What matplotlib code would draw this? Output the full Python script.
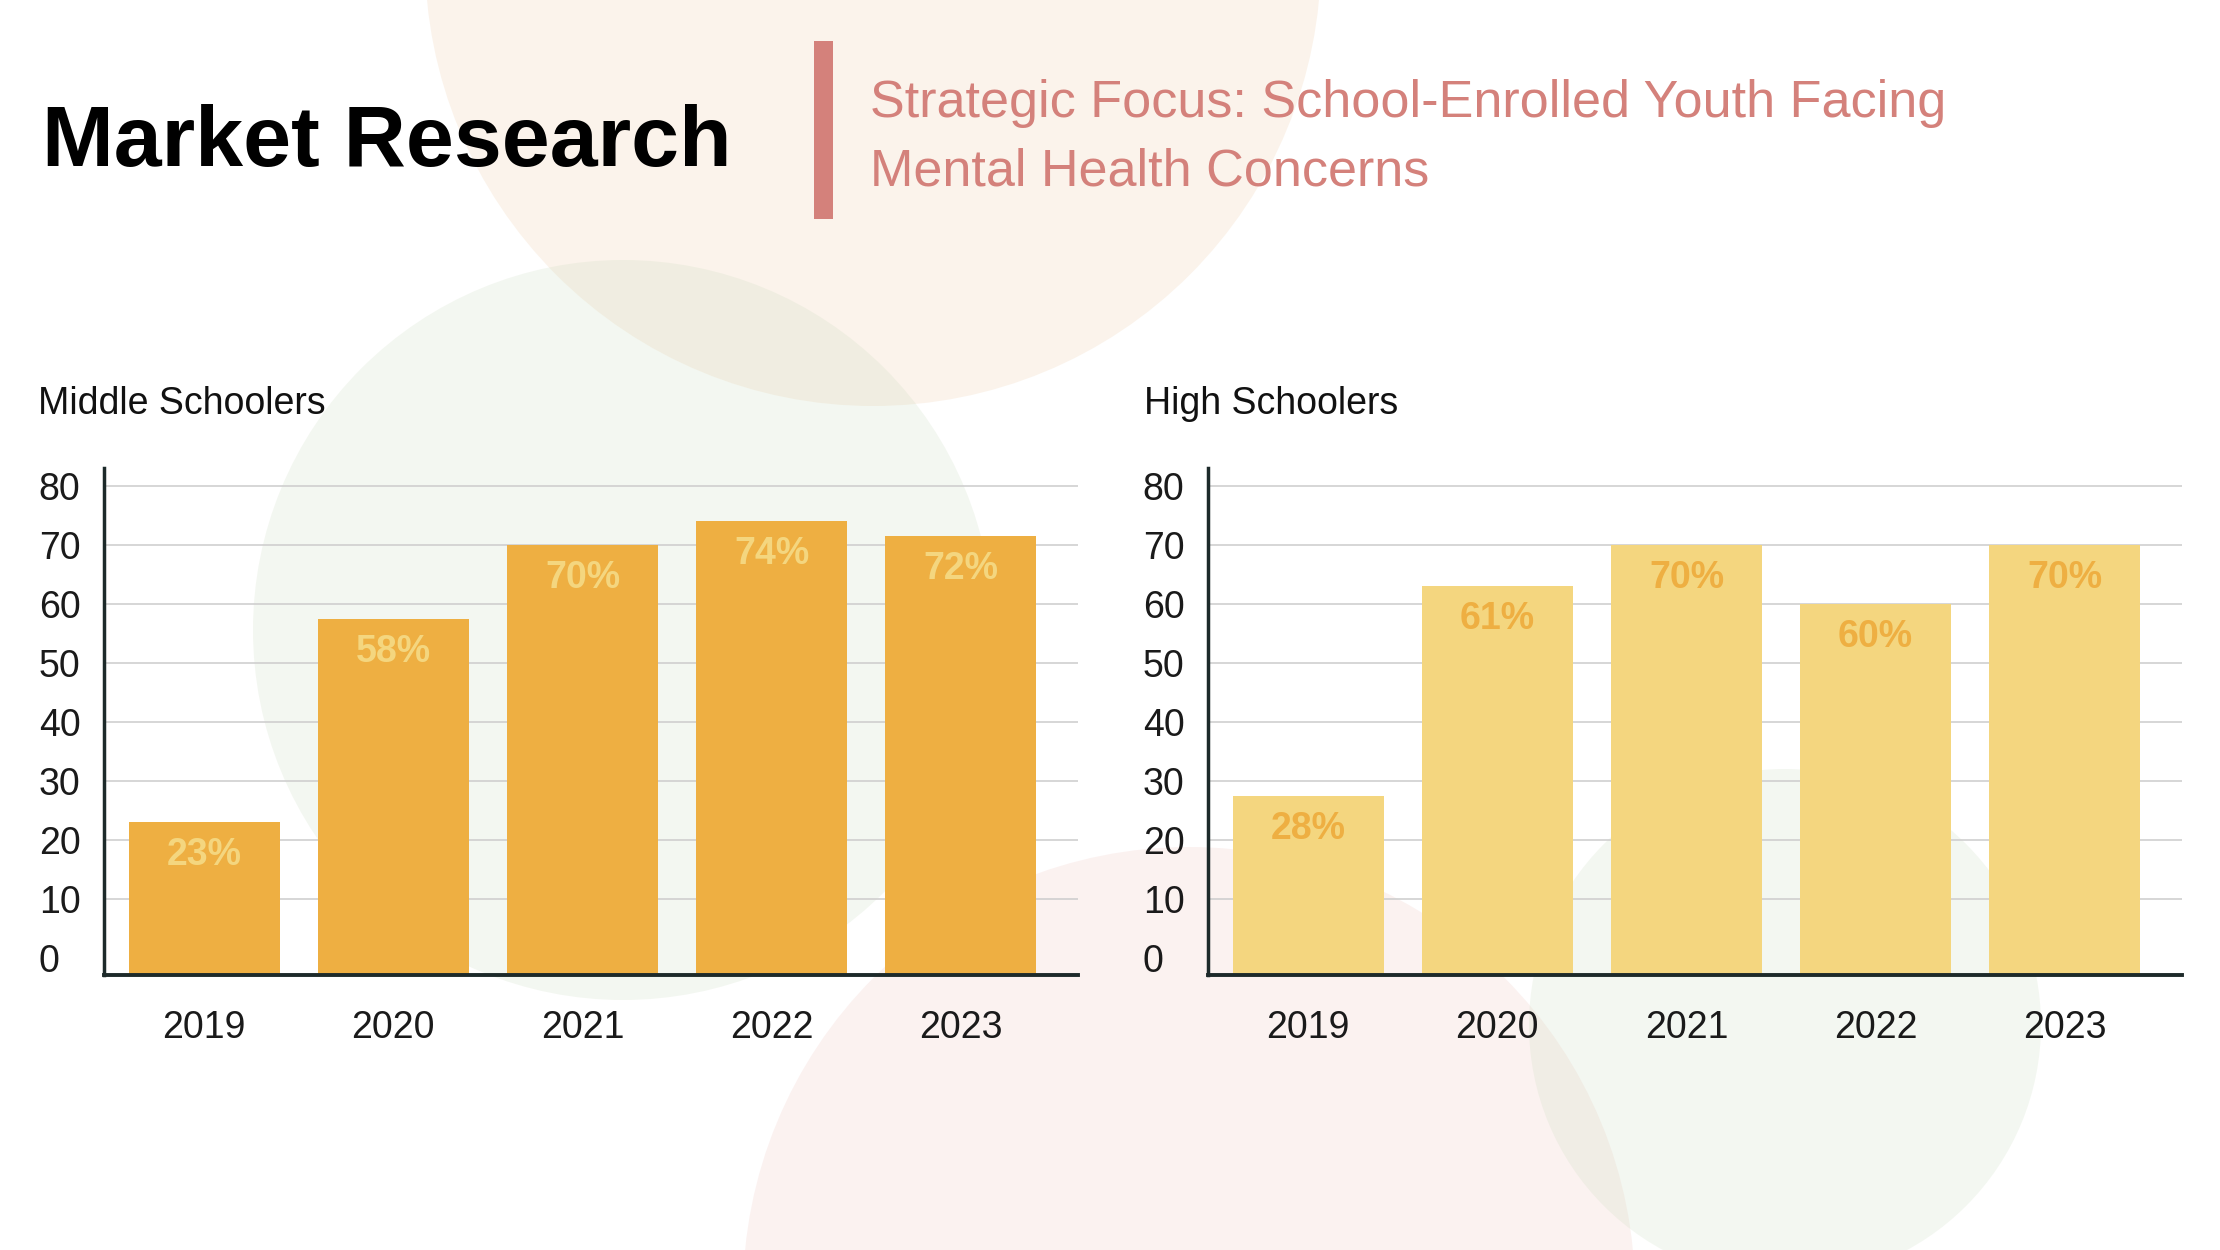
import numpy as np
import matplotlib.pyplot as plt
from matplotlib.patches import Circle, Rectangle

# data
years = ['2019', '2020', '2021', '2022', '2023']
middle_vals = [23, 57.5, 70, 74, 71.5]
middle_labels = ['23%', '58%', '70%', '74%', '72%']
high_vals = [27.5, 63, 70, 60, 70]
high_labels = ['28%', '61%', '70%', '60%', '70%']
yticks = [0, 10, 20, 30, 40, 50, 60, 70, 80]

title = 'Market Research'
subtitle_lines = ['Strategic Focus: School-Enrolled Youth Facing',
                  'Mental Health Concerns']
panel_titles = ['Middle Schoolers', 'High Schoolers']

ORANGE = '#EEAF42'
PALE = '#F4D67F'
ROSE = '#D4817B'
DARK = '#1d2a2a'
Y_MIN, Y_MAX = -2.9, 83

plt.rcParams['font.family'] = ['Liberation Sans', 'DejaVu Sans']

W, H = 2220, 1250
fig = plt.figure(figsize=(W / 100, H / 100), dpi=100)

# background circles, drawn in pixel space
bg = fig.add_axes([0, 0, 1, 1], zorder=0)
bg.set_xlim(0, W)
bg.set_ylim(H, 0)
bg.axis('off')
circles = [((873, -42), 448, '#F3D9BE', 0.30),
           ((623, 630), 370, '#C6D9B9', 0.20),
           ((1189, 1293), 446, '#E8A8A0', 0.15),
           ((1785, 1025), 256, '#C6D9B9', 0.20)]
for (cx, cy), r, col, a in circles:
    bg.add_patch(Circle((cx, cy), r, color=col, alpha=a, lw=0))

# header
fig.text(42 / W, 1 - 166 / H, title, fontsize=62, fontweight='bold',
         color='black', va='baseline', ha='left')
fig.patches.append(Rectangle((814 / W, 1 - 219 / H), 19 / W, 178 / H,
                             transform=fig.transFigure, color=ROSE, lw=0))
fig.text(870 / W, 1 - 117 / H, subtitle_lines[0], fontsize=37.5, color=ROSE,
         va='baseline', ha='left')
fig.text(870 / W, 1 - 186 / H, subtitle_lines[1], fontsize=37.5, color=ROSE,
         va='baseline', ha='left')


def draw_panel(left, vals, labels, bar_col, lab_col, name, name_x):
    ax = fig.add_axes([left / W, 1 - 975 / H, 974 / W, 507 / H], zorder=1)
    ax.set_facecolor('none')
    x = np.arange(len(years))
    ax.bar(x, np.array(vals) - Y_MIN, bottom=Y_MIN, width=0.8,
           color=bar_col, zorder=3)
    for xi, v, lab in zip(x, vals, labels):
        ax.annotate(lab, xy=(xi, v), xytext=(0, -24), textcoords='offset points',
                    ha='center', va='center', fontsize=27, fontweight='bold',
                    color=lab_col, zorder=4)
    ax.set_xlim(-0.53, 4.62)
    ax.set_ylim(Y_MIN, Y_MAX)
    ax.set_xticks(x)
    ax.set_xticklabels(years)
    ax.set_yticks(yticks)
    ax.set_yticklabels([str(t) for t in yticks])
    ax.tick_params(axis='both', length=0, labelsize=27, colors='#1a1a1a')
    ax.tick_params(axis='y', pad=47)
    ax.tick_params(axis='x', pad=25)
    for lab in ax.get_yticklabels():
        lab.set_horizontalalignment('left')
    ax.grid(axis='y', color='#cfcfcf', lw=1.2, zorder=1)
    ax.get_ygridlines()[0].set_visible(False)
    ax.set_axisbelow(True)
    for s in ['top', 'right']:
        ax.spines[s].set_visible(False)
    ax.spines['left'].set_color(DARK)
    ax.spines['left'].set_linewidth(2.5)
    ax.spines['bottom'].set_color(DARK)
    ax.spines['bottom'].set_linewidth(2.8)
    ax.spines['left'].set_zorder(5)
    ax.spines['bottom'].set_zorder(5)
    fig.text(name_x / W, 1 - 414 / H, name, fontsize=27, color='#111111',
             va='baseline', ha='left')
    return ax


draw_panel(104, middle_vals, middle_labels, ORANGE, PALE, panel_titles[0], 38)
draw_panel(1208, high_vals, high_labels, PALE, ORANGE, panel_titles[1], 1144)

fig.savefig('out.png', dpi=100)
